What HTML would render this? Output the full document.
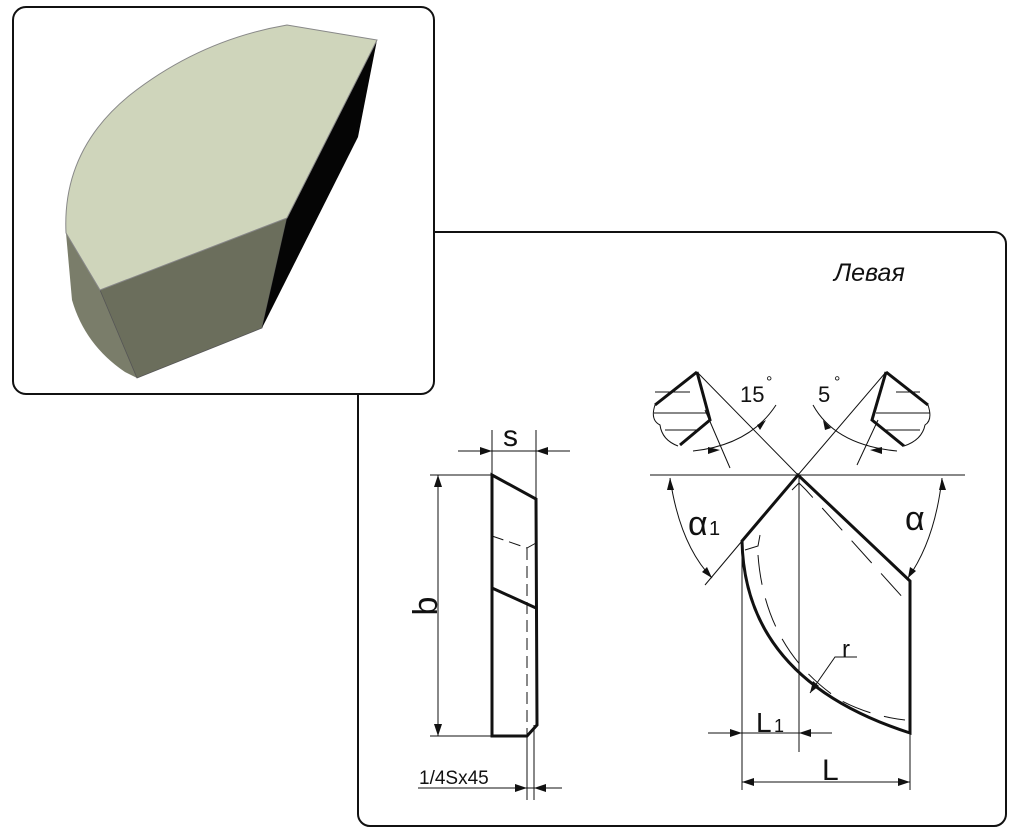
<!DOCTYPE html>
<html><head><meta charset="utf-8"><style>
body{margin:0;background:#fff;width:1024px;height:838px;overflow:hidden}
svg{display:block}
text{font-family:"Liberation Sans",sans-serif;fill:#111}
</style></head><body>
<svg width="1024" height="838" viewBox="0 0 1024 838">
<path d="M434 232 H994 A12 12 0 0 1 1006 244 V814 A12 12 0 0 1 994 826 H370 A12 12 0 0 1 358 814 V394" fill="none" stroke="#111" stroke-width="2"/>
<rect x="13" y="7" width="421" height="387" rx="13" fill="#fff" stroke="#111" stroke-width="2"/>
<path d="M66 233 L100 290 L137 378 L125 372 Q85 345 72 300 Z" fill="#7a7d6a"/>
<path d="M100 290 L287 218 L262 328 L137 378 Z" fill="#6b6e5c" stroke="#555" stroke-width="0.8"/>
<path d="M287 218 L377 40 L358 137 L262 328 Z" fill="#050505"/>
<path d="M66 233 Q62 150 130 95 Q200 40 287 25 L377 40 L287 218 L100 290 Z" fill="#cfd5bb" stroke="#888" stroke-width="1"/>
<text x="834" y="281" font-size="25" font-style="italic">Левая</text>
<g stroke="#111" fill="none">
<path d="M492 475 L536 499 L537 725 L527 736 L492 736 Z" stroke-width="3"/>
<path d="M492 588 L536 608" stroke-width="3"/>
<path d="M492 536 L527 548 L536 543 M527 548 V736" stroke-width="1" stroke-dasharray="12 6"/>
<g stroke-width="1">
<path d="M492 430 V475 M536 430 V499 M458 451 H570"/>
<path d="M430 475 H492 M430 736 H492 M438 475 V736"/>
<path d="M527 736 V800 M534 725 V800 M418 788 H562"/>
</g>
<g stroke-width="1">
<path d="M650 475 H965 M799 475 V752"/>
<path d="M697 372 L798 475 L886 372"/>
<path d="M705 410 L730 468 M878 420 L857 465"/>
<path d="M742 541 L705 585"/>
<path d="M776 405 Q750 445 693 451 M813 405 Q835 445 897 451"/>
<path d="M670 478 Q680 545 712 578 M942 478 Q935 540 908 578"/>
<path d="M708 733 H832 M742 541 V790 M910 733 V790 M742 782 H910"/>
<path d="M810 693 L835 657 H857"/>
<path d="M655 392 H690 M654 413 H706 M665 430 H700 M896 392 H920 M876 413 H930 M886 430 H920"/>
<path d="M655 405 Q650 420 660 425 Q662 440 678 446 M928 405 Q933 420 925 425 Q922 440 904 446"/>
</g>
<path d="M742 541 Q745 680 910 733 V581 L798 475 Z" stroke-width="3"/>
<path d="M697 372 L655 405 M697 372 L710 420 L680 445 M886 372 L928 405 M886 372 L872 420 L904 446" stroke-width="3"/>
<path d="M758 555 Q765 650 840 700 Q870 716 905 720" stroke-width="1" stroke-dasharray="30 14"/>
<path d="M745 550 L758 546 L760 535 M792 490 L799 483 L806 490 L905 600" stroke-width="1" stroke-dasharray="30 14"/>
</g>
<g fill="#111">
<path d="M492 451 l-12 -4 v8z M536 451 l12 -4 v8z"/>
<path d="M438 475 l-4 12 h8z M438 736 l-4 -12 h8z"/>
<path d="M527 788 l-12 -4 v8z M534 788 l12 -4 v8z"/>
<path d="M742 733 l-12 -4 v8z M799 733 l12 -4 v8z"/>
<path d="M742 782 l12 -4 v8z M910 782 l-12 -4 v8z"/>
<path d="M810 693 l3 -12 l6 5z"/>
<path d="M670 478 l-3 12 h7z M712 578 l-10 -6 l5 -5z M942 478 l-3 12 h7z M908 578 l2 -11 l6 4z"/>
<path d="M766 420 l-6 10 l-3 -5z M720 450 l-12 -3 v7z M823 420 l8 8 l-6 2z M870 450 l12 -3 v7z"/>
</g>
<text x="503" y="446" font-size="30">s</text>
<text x="437" y="606" font-size="34" transform="rotate(-90 437 606)" text-anchor="middle" dominant-baseline="auto">b</text>
<text x="419" y="784" font-size="19">1/4Sx45</text>
<text x="740" y="402" font-size="22">15</text><text x="766" y="387" font-size="16">°</text>
<text x="818" y="402" font-size="22">5</text><text x="834" y="387" font-size="16">°</text>
<text x="688" y="535" font-size="34">α</text><text x="709" y="535" font-size="20">1</text>
<text x="905" y="530" font-size="34">α</text>
<text x="842" y="657" font-size="24">r</text>
<text x="756" y="732" font-size="28">L</text><text x="774" y="732" font-size="18">1</text>
<text x="822" y="780" font-size="30">L</text>
</svg>
</body></html>
